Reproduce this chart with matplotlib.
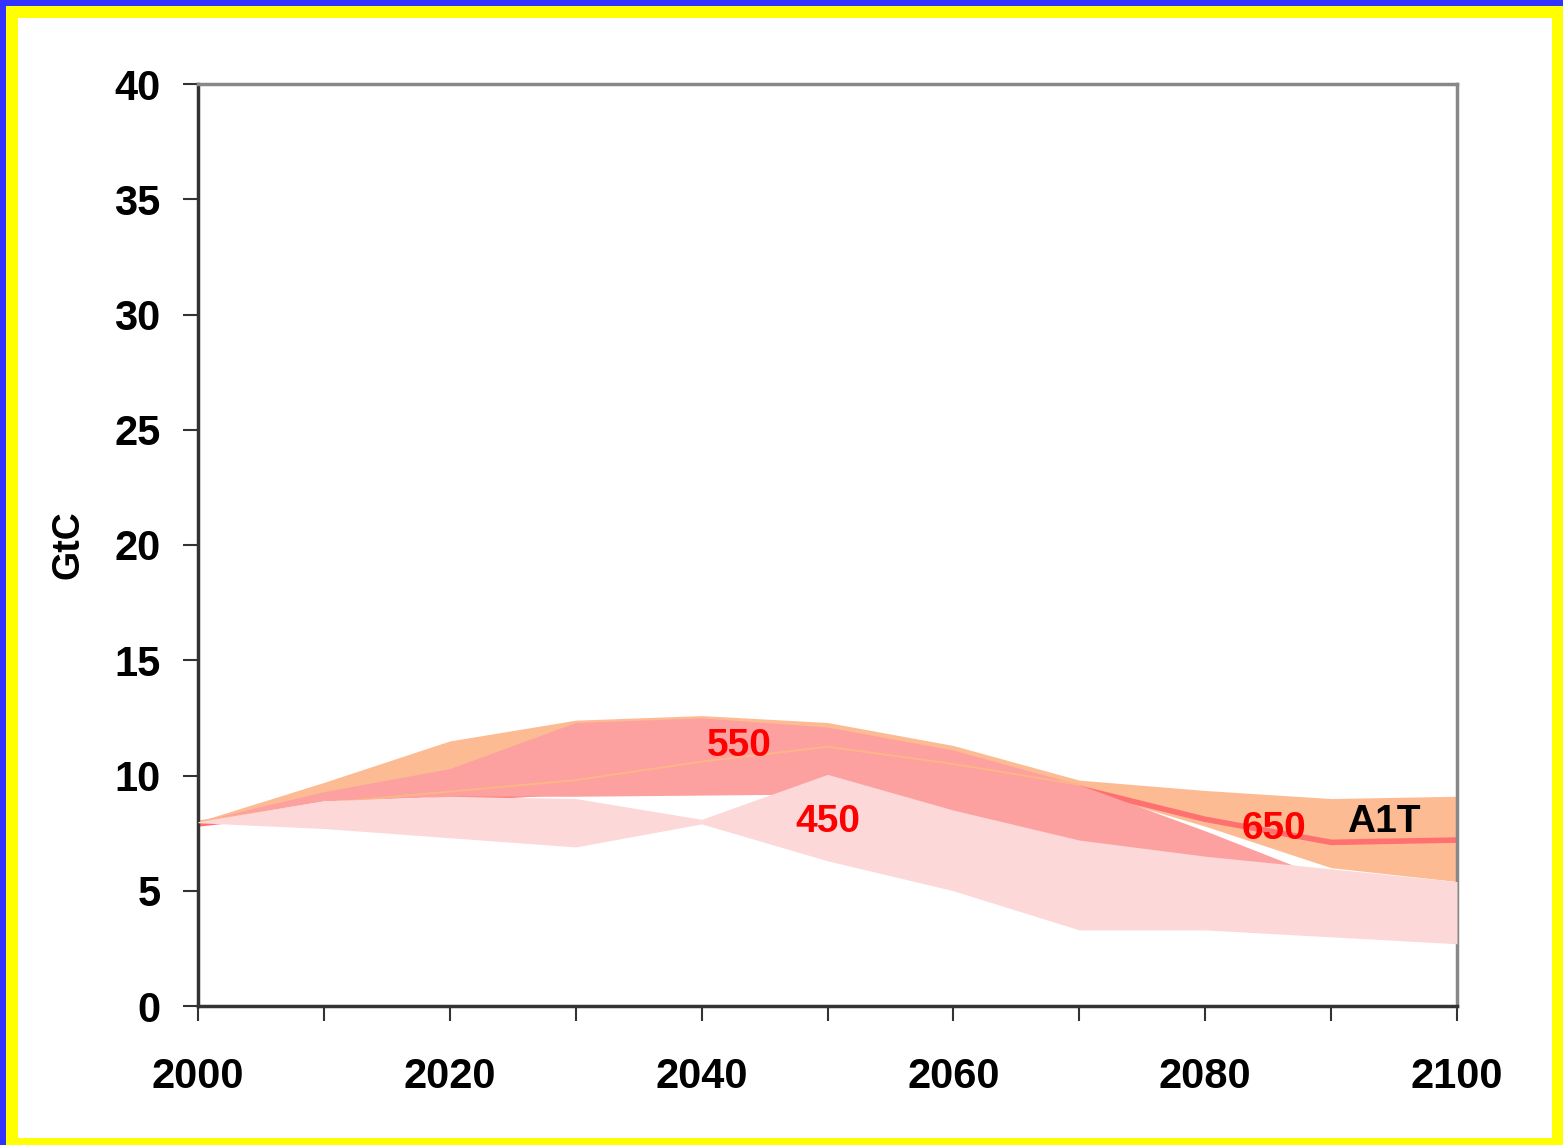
"""
plot.py
GtC emission bands for the A1T stabilisation runs (450 / 550 / 650).
"""

import matplotlib
matplotlib.use("Agg")
import matplotlib.pyplot as plt
from matplotlib.patches import Rectangle

# --- data (GtC) ---
years = [2000, 2010, 2020, 2030, 2040, 2050, 2060, 2070, 2080, 2090, 2100]

s650_upper = [8.0, 9.7, 11.5, 12.4, 12.6, 12.3, 11.3, 9.8, 9.35, 9.0, 9.1]
s650_lower = [8.0, 9.0, 9.2, 9.3, 9.4, 10.2, 9.5, 9.4, 7.8, 6.0, 5.4]
s650_line = [7.9, 8.5, 9.0, 9.3, 9.6, 10.0, 10.0, 9.45, 8.1, 7.1, 7.2]

years_550 = [2000, 2010, 2020, 2030, 2040, 2050, 2060, 2070, 2080, 2087, 2100]
s550_upper = [8.0, 9.3, 10.3, 12.3, 12.5, 12.1, 11.1, 9.6, 7.6, 6.1, 5.4]
s550_lower = [8.0, 8.9, 9.1, 9.1, 9.15, 9.2, 8.0, 7.0, 6.3, 6.1, 5.4]
years_550_line = [2000, 2010, 2020, 2030, 2040, 2050, 2060, 2070]
s550_line = [8.0, 8.8, 9.3, 9.8, 10.6, 11.25, 10.5, 9.6]

s450_upper = [8.0, 8.9, 9.1, 9.0, 8.1, 10.05, 8.5, 7.2, 6.5, 5.95, 5.4]
s450_lower = [7.95, 7.7, 7.3, 6.9, 7.9, 6.3, 5.0, 3.3, 3.3, 3.0, 2.7]

labels = [("550", 2043.0, 11.3, "#FF0000"),
          ("450", 2050.0, 8.0, "#FF0000"),
          ("650", 2085.5, 7.7, "#FF0000"),
          ("A1T", 2094.2, 8.0, "#000000")]

ORANGE = "#FDBB94"
RED = "#FCA0A0"
PINK = "#FDD8D8"

plt.rcParams["font.family"] = ["Liberation Sans", "DejaVu Sans"]
plt.rcParams["font.weight"] = "bold"

fig = plt.figure(figsize=(15.63, 11.45), dpi=100)
fig.patch.set_facecolor("#3333FF")
# yellow frame and white panel
fig.patches.append(Rectangle((6 / 1563, 0), 1, 1139 / 1145, transform=fig.transFigure,
                             facecolor="#FFFF00", edgecolor="none", zorder=-2))
fig.patches.append(Rectangle((18 / 1563, 7 / 1145), 1534 / 1563, 1120 / 1145,
                             transform=fig.transFigure, facecolor="white",
                             edgecolor="none", zorder=-1))

ax = fig.add_axes([198 / 1563, 1 - 1006 / 1145, 1259 / 1563, 922 / 1145])
ax.set_facecolor("white")

ax.fill_between(years, s650_lower, s650_upper, color=ORANGE, lw=0, zorder=1)
ax.plot(years, s650_line, color="#FF7070", lw=4, zorder=1.5, solid_capstyle="butt")
ax.fill_between(years_550, s550_lower, s550_upper, color=RED, lw=0, zorder=2)
ax.plot(years_550_line, s550_line, color="#FDB488", lw=1.5, zorder=2.5)
ax.fill_between(years, s450_lower, s450_upper, color=PINK, lw=0, zorder=3)

for txt, x, y, c in labels:
    ax.text(x, y, txt, color=c, fontsize=28, fontweight="bold",
            ha="center", va="center", zorder=5)

ax.set_xlim(2000, 2100)
ax.set_ylim(0, 40)
ax.set_xticks(range(2000, 2101, 20))
ax.set_xticks(range(2010, 2100, 20), minor=True)
ax.set_yticks(range(0, 41, 5))
ax.tick_params(axis="both", which="both", direction="out", length=11, width=1.5,
               color="#333333", labelsize=30)
ax.tick_params(axis="x", which="major", pad=26)
ax.tick_params(axis="y", pad=16)
for lab in ax.get_xticklabels() + ax.get_yticklabels():
    lab.set_fontweight("bold")

ax.set_ylabel("GtC", fontsize=27, fontweight="bold", labelpad=20)

for side in ["left", "bottom"]:
    ax.spines[side].set_color("#333333")
    ax.spines[side].set_linewidth(2.5)
for side in ["top", "right"]:
    ax.spines[side].set_color("#888888")
    ax.spines[side].set_linewidth(2.5)

fig.savefig("out.png", dpi=100, facecolor=fig.get_facecolor())
